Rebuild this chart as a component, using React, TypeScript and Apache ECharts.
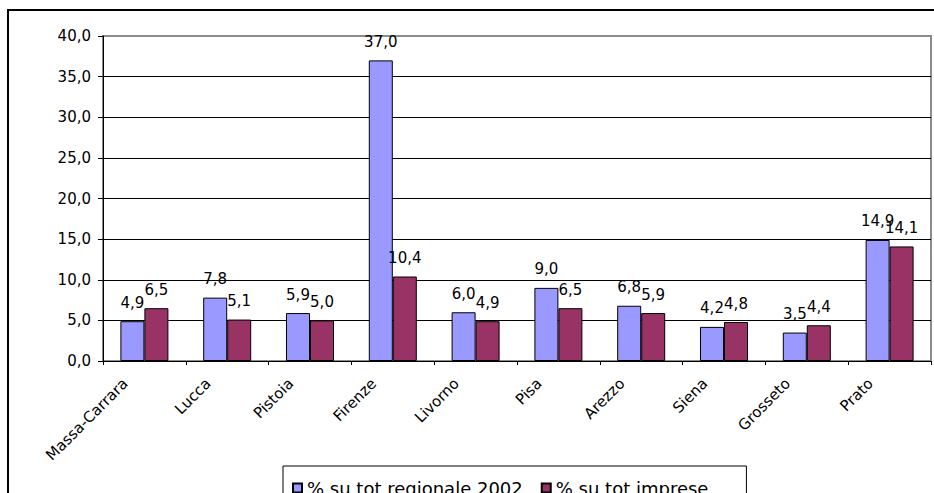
import React, { useEffect, useRef } from "react";
import * as echarts from "echarts";

const categories = ["Massa-Carrara", "Lucca", "Pistoia", "Firenze", "Livorno", "Pisa", "Arezzo", "Siena", "Grosseto", "Prato"];
const seriesRegionale = [4.9, 7.8, 5.9, 37.0, 6.0, 9.0, 6.8, 4.2, 3.5, 14.9];
const seriesImprese = [6.5, 5.1, 5.0, 10.4, 4.9, 6.5, 5.9, 4.8, 4.4, 14.1];
const seriesNames = ["% su tot regionale 2002", "% su tot imprese"];

const FONT = "DejaVu Sans";
const fmt = (v: number) => v.toFixed(1).replace(".", ",");

export default function App() {
  const ref = useRef<HTMLDivElement>(null);
  useEffect(() => {
    if (!ref.current) return;
    const chart = echarts.init(ref.current, undefined, { renderer: "svg" });
    const labelCfg = {
      show: true,
      position: "top",
      distance: 11,
      color: "#000",
      fontFamily: FONT,
      fontSize: 15,
      formatter: (p: any) => fmt(p.value),
    };
    chart.setOption({
      animation: false,
      backgroundColor: "#fff",
      grid: {
        left: 103,
        top: 36,
        width: 828,
        height: 325,
        show: true,
        borderColor: "#8c8c8c",
        borderWidth: 2,
        containLabel: false,
      },
      xAxis: {
        type: "category",
        data: categories,
        axisLine: { lineStyle: { color: "#000", width: 1 } },
        axisTick: { show: true, length: 4, lineStyle: { color: "#000" } },
        axisLabel: {
          interval: 0,
          rotate: 45,
          margin: 1,
          padding: [0, 27, 24, 0],
          color: "#000",
          fontFamily: FONT,
          fontSize: 15,
          hideOverlap: false,
        },
        splitLine: { show: false },
      },
      yAxis: {
        type: "value",
        min: 0,
        max: 40,
        interval: 5,
        axisLine: { show: true, lineStyle: { color: "#000", width: 1 } },
        axisTick: { show: true, length: 5, lineStyle: { color: "#000" } },
        axisLabel: {
          margin: 12,
          color: "#000",
          fontFamily: FONT,
          fontSize: 15,
          formatter: (v: number) => fmt(v),
        },
        splitLine: {
          show: true,
          lineStyle: {
            color: ["#000", "#000", "#000", "#000", "#000", "#000", "#000", "#000", "#8c8c8c"],
            width: 1,
          },
        },
      },
      legend: {
        left: 283,
        top: 466,
        orient: "horizontal",
        padding: [13, 38, 10, 9],
        itemWidth: 9,
        itemHeight: 9,
        itemGap: 18,
        borderColor: "#000",
        borderWidth: 1,
        borderRadius: 0,
        icon: "rect",
        textStyle: { color: "#000", fontFamily: FONT, fontSize: 18 },
        data: seriesNames,
      },
      graphic: [
        {
          type: "rect",
          z: -1,
          shape: { x: 8, y: 10, width: 960, height: 520 },
          style: { fill: "none", stroke: "#000", lineWidth: 2 },
          silent: true,
        },
      ],
      series: [
        {
          name: seriesNames[0],
          type: "bar",
          data: seriesRegionale,
          barWidth: 24,
          barGap: "0%",
          itemStyle: { color: "#9999FF", borderColor: "#000", borderWidth: 1 },
          label: labelCfg,
        },
        {
          name: seriesNames[1],
          type: "bar",
          data: seriesImprese,
          barWidth: 24,
          barGap: "0%",
          itemStyle: { color: "#993366", borderColor: "#000", borderWidth: 1 },
          label: labelCfg,
        },
      ],
    });
    return () => chart.dispose();
  }, []);
  return (
    <div
      ref={ref}
      style={{ position: "absolute", left: 0, top: 0, width: 934, height: 493, background: "#fff" }}
    />
  );
}
